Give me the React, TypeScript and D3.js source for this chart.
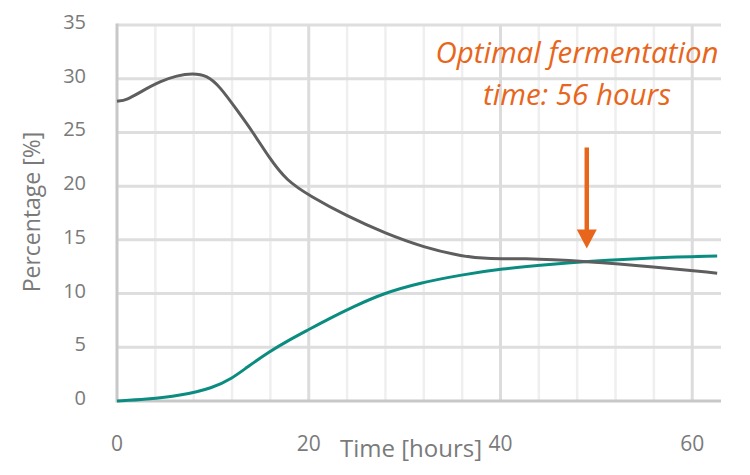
import React from "react";
import * as d3 from "d3";

const grayHours = [0, 1, 2.7, 4.5, 6.25, 7.9, 9.4, 10.7, 12.5, 14.2, 15.9, 17.7, 20.1, 24, 28, 32, 36, 39, 42, 49, 56, 62.6];
const grayValues = [27.9, 28.0, 28.9, 29.75, 30.3, 30.5, 30.3, 29.3, 27.1, 25.0, 22.6, 20.5, 19.1, 17.2, 15.6, 14.3, 13.45, 13.2, 13.3, 13.0, 12.5, 11.9];

const tealHours = [0, 3, 6.6, 10, 12, 13.5, 15.9, 18, 19.9, 22.2, 24.6, 27.7, 31.6, 36, 40, 45.4, 49, 55.8, 62.6];
const tealValues = [0, 0.15, 0.5, 1.2, 2.1, 3.1, 4.6, 5.7, 6.6, 7.7, 8.75, 10.0, 11.0, 11.75, 12.3, 12.75, 13.0, 13.35, 13.5];

const yTicks = [0, 5, 10, 15, 20, 25, 30, 35];
const xTickLabels = [0, 20, 40, 60];
const xMinorGrid = [4, 8, 12, 16, 24, 28, 32, 36, 44, 48, 52, 56];
const xMajorGrid = [20, 40, 60];

const arrowHour = 49;
const arrowFrom = 23.6;
const arrowTo = 14.2;
const annotationLines = ["Optimal fermentation", "time: 56 hours"];

const W = 750;
const H = 475;
const FONT = "'Open Sans', 'Noto Sans', sans-serif";

export default function App() {
  const x = d3.scaleLinear().domain([0, 63]).range([117, 721]);
  const y = d3.scaleLinear().domain([0, 35]).range([401, 25]);

  const line = d3
    .line<[number, number]>()
    .x((d) => x(d[0]))
    .y((d) => y(d[1]))
    .curve(d3.curveBasis);

  const gray = grayHours.map((h, i) => [h, grayValues[i]] as [number, number]);
  const teal = tealHours.map((h, i) => [h, tealValues[i]] as [number, number]);

  const ax = x(arrowHour);
  const ay0 = y(arrowFrom);
  const ay1 = y(arrowTo);
  const headLen = 19;
  const headHalf = 10;
  const orange = "#e8661c";

  return (
    <svg
      width={W}
      height={H}
      style={{ position: "absolute", left: 0, top: 0, background: "#fff" }}
      fontFamily={FONT}
    >
      {xMinorGrid.map((h) => (
        <line key={"mv" + h} x1={x(h)} x2={x(h)} y1={y(35)} y2={y(0)} stroke="#efefef" strokeWidth={2.5} />
      ))}
      {yTicks.filter((t) => t > 0).map((t) => (
        <line key={"h" + t} x1={x(0)} x2={x(63)} y1={y(t)} y2={y(t)} stroke="#dedede" strokeWidth={3} />
      ))}
      {xMajorGrid.map((h) => (
        <line key={"Mv" + h} x1={x(h)} x2={x(h)} y1={y(35)} y2={y(0)} stroke="#dcdcdc" strokeWidth={3} />
      ))}
      <line x1={x(0)} x2={x(0)} y1={y(35) - 1.5} y2={y(0) + 1.5} stroke="#c8c8c8" strokeWidth={3} />
      <line x1={x(0)} x2={x(63)} y1={y(0)} y2={y(0)} stroke="#c8c8c8" strokeWidth={3} />

      {yTicks.map((t) => (
        <text key={"yt" + t} x={86} y={y(t) + 4} textAnchor="end" fontSize={20} fill="#7a7a7a">
          {t}
        </text>
      ))}
      {xTickLabels.map((t) => (
        <text key={"xt" + t} x={x(t)} y={451} textAnchor="middle" fontSize={21} fill="#7a7a7a">
          {t}
        </text>
      ))}
      <text x={411} y={457} textAnchor="middle" fontSize={24} fill="#7a7a7a">
        Time [hours]
      </text>
      <text transform={`translate(40,212) rotate(-90)`} textAnchor="middle" fontSize={23} fill="#7a7a7a">
        Percentage [%]
      </text>

      <path d={line(teal) || ""} fill="none" stroke="#0b8c80" strokeWidth={3} />
      <path d={line(gray) || ""} fill="none" stroke="#5e5e5e" strokeWidth={3} />

      {annotationLines.map((s, i) => (
        <text
          key={"a" + i}
          x={577}
          y={63 + i * 42}
          textAnchor="middle"
          fontSize={29.5}
          fontStyle="italic"
          fill={orange}
        >
          {s}
        </text>
      ))}
      <line x1={ax} x2={ax} y1={ay0} y2={ay1 - headLen + 2} stroke={orange} strokeWidth={4.5} />
      <path
        d={`M${ax - headHalf},${ay1 - headLen} L${ax + headHalf},${ay1 - headLen} L${ax},${ay1} Z`}
        fill={orange}
      />
    </svg>
  );
}
